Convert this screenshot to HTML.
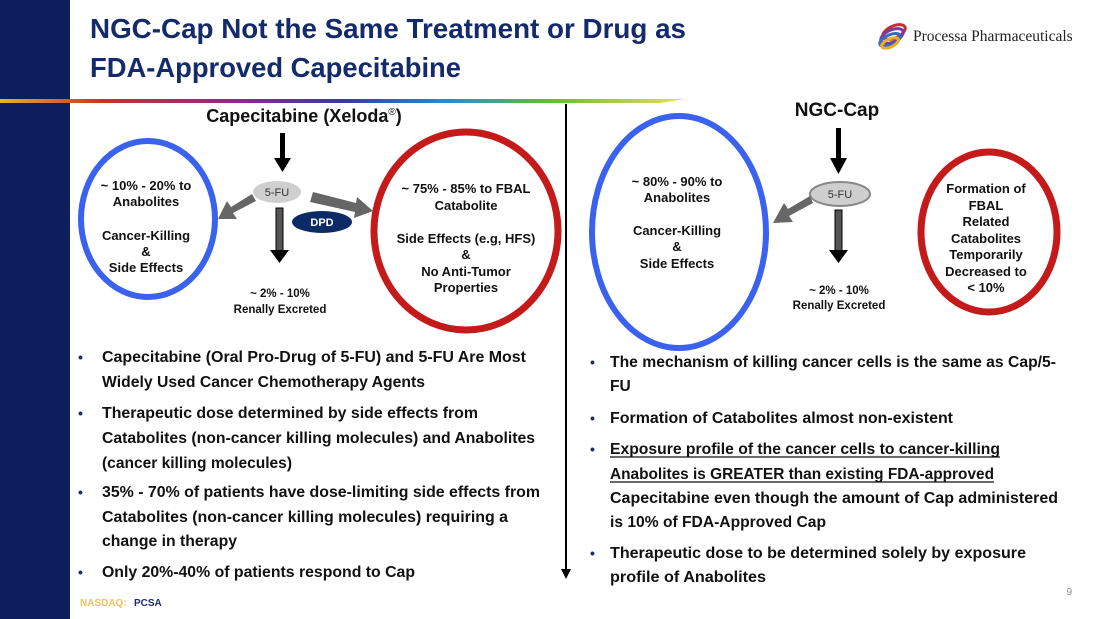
<!DOCTYPE html>
<html><head><meta charset="utf-8"><style>
html,body{margin:0;padding:0;background:#fff}
svg{display:block}
text{font-family:"Liberation Sans",sans-serif}
.b{font-weight:bold;font-size:15.5px;fill:#111}
.d{font-weight:bold;font-size:13px;fill:#111;text-anchor:middle}
.bl{fill:#1f2a6b;font-size:14px;font-weight:bold}
</style></head><body>
<svg width="1100" height="619" viewBox="0 0 1100 619" xmlns="http://www.w3.org/2000/svg">
<defs>
<linearGradient id="rb" x1="0" x2="1" y1="0" y2="0">
<stop offset="0" stop-color="#f2b21a"/><stop offset="0.15" stop-color="#d8282a"/><stop offset="0.35" stop-color="#8a2a8a"/><stop offset="0.5" stop-color="#3a3a9a"/><stop offset="0.65" stop-color="#2a8ad0"/><stop offset="0.8" stop-color="#6ab83a"/><stop offset="1" stop-color="#e8e050"/>
</linearGradient>
</defs>
<rect x="0" y="0" width="70" height="619" fill="#0c1f5c"/>
<path d="M0,99 L685,99 L660,103 L0,103 Z" fill="url(#rb)"/>
<text x="90" y="38" font-size="28" font-weight="bold" fill="#132a6b" textLength="596" lengthAdjust="spacingAndGlyphs">NGC-Cap Not the Same Treatment or Drug as</text>
<text x="90" y="77" font-size="28" font-weight="bold" fill="#132a6b" textLength="371" lengthAdjust="spacingAndGlyphs">FDA-Approved Capecitabine</text>
<g fill="none" stroke-width="3">
<ellipse cx="894" cy="32" rx="12" ry="6" stroke="#c03030" transform="rotate(-25 894 32)"/>
<ellipse cx="892" cy="36" rx="12" ry="6" stroke="#7a3aa0" transform="rotate(-25 892 36)"/>
<ellipse cx="890" cy="40" rx="11" ry="5" stroke="#3a6ac0" transform="rotate(-25 890 40)"/>
<ellipse cx="890" cy="43" rx="9" ry="4" stroke="#e8b020" transform="rotate(-25 890 43)"/>
</g>
<text x="913" y="41" font-size="15.5" fill="#222" style="font-family:'Liberation Serif',serif">Processa Pharmaceuticals</text>
<line x1="566" y1="104" x2="566" y2="570" stroke="#000" stroke-width="2"/>
<path d="M561,569 L571,569 L566,579 Z" fill="#000"/>
<!-- left diagram -->
<text x="304" y="122" text-anchor="middle" font-size="18" font-weight="bold" fill="#111">Capecitabine (Xeloda<tspan font-size="10" dy="-7" font-weight="normal">®</tspan><tspan dy="7">)</tspan></text>
<rect x="280" y="133" width="5" height="27" fill="#000"/><path d="M274,158 L291,158 L282.5,172 Z" fill="#000"/>
<ellipse cx="277" cy="192" rx="24" ry="11" fill="#cfcfcf"/>
<text x="277" y="196" text-anchor="middle" font-size="11" fill="#333">5-FU</text>
<path d="M252,194 L231,207 L227,201 L218,219 L237,219 L233,213 L256,201 Z" fill="#666"/>
<path d="M313,192 L356,203 L357,197 L373,211 L354,218 L355,212 L310,202 Z" fill="#666"/>
<rect x="276" y="208" width="7" height="44" fill="#555" stroke="#000"/><path d="M270,250 L289,250 L279.5,263 Z" fill="#000"/>
<ellipse cx="322" cy="222" rx="30" ry="11" fill="#0c2a66"/>
<text x="322" y="226" text-anchor="middle" font-size="11" font-weight="bold" fill="#fff">DPD</text>
<ellipse cx="148" cy="219" rx="67" ry="78" fill="none" stroke="#3a62ee" stroke-width="6"/>
<text class="d" x="146" y="190">~ 10% - 20% to</text><text class="d" x="146" y="206">Anabolites</text>
<text class="d" x="146" y="240">Cancer-Killing</text><text class="d" x="146" y="256">&amp;</text><text class="d" x="146" y="272">Side Effects</text>
<ellipse cx="466" cy="231" rx="92" ry="99" fill="none" stroke="#c41a1a" stroke-width="7"/>
<text class="d" x="466" y="193">~ 75% - 85% to FBAL</text><text class="d" x="466" y="210">Catabolite</text>
<text class="d" x="466" y="243">Side Effects (e.g, HFS)</text><text class="d" x="466" y="259">&amp;</text><text class="d" x="466" y="276">No Anti-Tumor</text><text class="d" x="466" y="292">Properties</text>
<text class="d" x="280" y="297" style="font-size:11.5px">~ 2% - 10%</text>
<text class="d" x="280" y="313" style="font-size:11.5px">Renally Excreted</text>
<!-- right diagram -->
<text x="837" y="116" text-anchor="middle" font-size="19" font-weight="bold" fill="#111">NGC-Cap</text>
<rect x="836" y="128" width="5" height="32" fill="#000"/><path d="M830,158 L847,158 L838.5,174 Z" fill="#000"/>
<ellipse cx="840" cy="194" rx="30" ry="12" fill="#cfcfcf" stroke="#888" stroke-width="2"/>
<text x="840" y="198" text-anchor="middle" font-size="11" fill="#333">5-FU</text>
<path d="M810,196 L788,209 L784,203 L773,223 L793,222 L789,216 L813,203 Z" fill="#666"/>
<rect x="835" y="210" width="7" height="42" fill="#555" stroke="#000"/><path d="M829,250 L848,250 L838.5,263 Z" fill="#000"/>
<ellipse cx="679" cy="232" rx="87" ry="116" fill="none" stroke="#3a62ee" stroke-width="6"/>
<text class="d" x="677" y="186">~ 80% - 90% to</text><text class="d" x="677" y="202">Anabolites</text>
<text class="d" x="677" y="235">Cancer-Killing</text><text class="d" x="677" y="251">&amp;</text><text class="d" x="677" y="268">Side Effects</text>
<text class="d" x="839" y="294" style="font-size:11.5px">~ 2% - 10%</text>
<text class="d" x="839" y="309" style="font-size:11.5px">Renally Excreted</text>
<ellipse cx="989" cy="232" rx="68" ry="80" fill="none" stroke="#c41a1a" stroke-width="7"/>
<text class="d" x="986" y="193">Formation of</text><text class="d" x="986" y="210">FBAL</text><text class="d" x="986" y="226">Related</text><text class="d" x="986" y="243">Catabolites</text><text class="d" x="986" y="259">Temporarily</text><text class="d" x="986" y="276">Decreased to</text><text class="d" x="986" y="292">&lt; 10%</text>
<g class="bl"><text x="78" y="362">•</text><text x="78" y="418">•</text><text x="78" y="497">•</text><text x="78" y="577">•</text>
<text x="590" y="367">•</text><text x="590" y="423">•</text><text x="590" y="454">•</text><text x="590" y="558">•</text></g>
<g class="b">
<text x="102" y="362" textLength="424" lengthAdjust="spacingAndGlyphs">Capecitabine (Oral Pro-Drug of 5-FU) and 5-FU Are Most</text>
<text x="102" y="387" textLength="323" lengthAdjust="spacingAndGlyphs">Widely Used Cancer Chemotherapy Agents</text>
<text x="102" y="418" textLength="376" lengthAdjust="spacingAndGlyphs">Therapeutic dose determined by side effects from</text>
<text x="102" y="443" textLength="433" lengthAdjust="spacingAndGlyphs">Catabolites (non-cancer killing molecules) and Anabolites</text>
<text x="102" y="468" textLength="190" lengthAdjust="spacingAndGlyphs">(cancer killing molecules)</text>
<text x="102" y="497" textLength="438" lengthAdjust="spacingAndGlyphs">35% - 70% of patients have dose-limiting side effects from</text>
<text x="102" y="522" textLength="406" lengthAdjust="spacingAndGlyphs">Catabolites (non-cancer killing molecules)  requiring a</text>
<text x="102" y="546" textLength="135" lengthAdjust="spacingAndGlyphs">change in therapy</text>
<text x="102" y="577" textLength="313" lengthAdjust="spacingAndGlyphs">Only 20%-40% of patients respond to Cap</text>
<text x="610" y="367" textLength="446" lengthAdjust="spacingAndGlyphs">The mechanism of killing cancer cells is the same as Cap/5-</text>
<text x="610" y="391">FU</text>
<text x="610" y="423" textLength="343" lengthAdjust="spacingAndGlyphs">Formation of Catabolites almost non-existent</text>
<text x="610" y="454" textLength="390" lengthAdjust="spacingAndGlyphs">Exposure profile of the cancer cells to cancer-killing</text>
<text x="610" y="479" textLength="384" lengthAdjust="spacingAndGlyphs">Anabolites is GREATER than existing FDA-approved</text>
<text x="610" y="503" textLength="448" lengthAdjust="spacingAndGlyphs">Capecitabine even though the amount of Cap administered</text>
<text x="610" y="527" textLength="216" lengthAdjust="spacingAndGlyphs">is 10% of FDA-Approved Cap</text>
<text x="610" y="558" textLength="416" lengthAdjust="spacingAndGlyphs">Therapeutic dose to be determined solely by  exposure</text>
<text x="610" y="582" textLength="156" lengthAdjust="spacingAndGlyphs">profile of Anabolites</text>
</g>
<line x1="610" y1="457" x2="1000" y2="457" stroke="#111" stroke-width="1.2"/>
<line x1="610" y1="482" x2="994" y2="482" stroke="#111" stroke-width="1.2"/>
<text x="80" y="606" font-size="10" font-weight="bold" fill="#f2c060">NASDAQ:</text>
<text x="134" y="606" font-size="10" font-weight="bold" fill="#1f2a6b">PCSA</text>
<text x="1072" y="595" font-size="10" fill="#888" text-anchor="end">9</text>
</svg>
</body></html>
